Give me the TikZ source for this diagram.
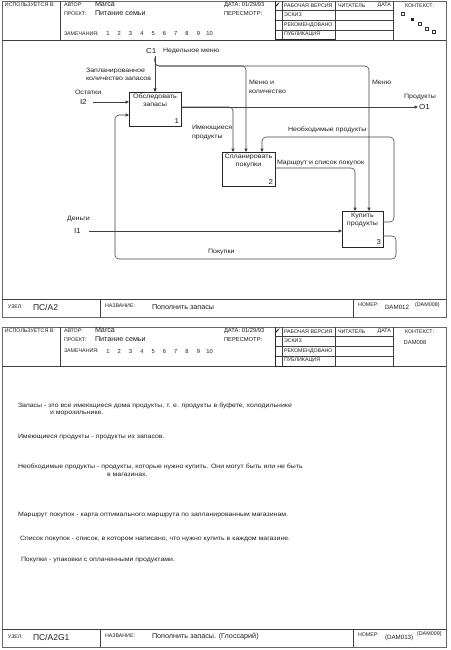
\documentclass[tikz,border=0pt]{standalone}
\usepackage{fontspec}
\setmainfont{Liberation Sans}
\newfontfamily\djv{DejaVu Sans}
\newfontfamily\gfont[FakeStretch=1.12]{Liberation Sans}
\usetikzlibrary{arrows.meta}
\newcommand\fsz[1]{\fontsize{#1}{#1}\selectfont}
\newcommand\idefhead[3]{% #1 top y, #2 prefix, #3 remarks offset
  \draw[thinln] (60,#1) -- (60,#1+39);
  \draw[thinln] (2,#1+39) -- (446,#1+39);
  \node[hdr] (#2use) at (5,#1+4) {ИСПОЛЬЗУЕТСЯ В:};
  \node[hdr] (#2aut) at (64,#1+4) {АВТОР:};
  \node[val] (#2autv) at (95,#1+3.5) {Marca};
  \node[hdr] (#2prj) at (64,#1+12.5) {ПРОЕКТ:};
  \node[val] (#2prjv) at (95,#1+12) {Питание семьи};
  \node[hdr] (#2rem) at (64,#1+#3) {ЗАМЕЧАНИЯ:};
  \foreach \i in {1,...,10} \node[num] (#2n\i) at ({108+11.3*(\i-1)},#1+#3) {\i};
  \node[hdr,font=\fsz{5.8}] (#2dat) at (224,#1+4) {ДАТА: 01/29/93};
  \node[hdr,font=\fsz{5.8}] (#2rev) at (224,#1+12.5) {ПЕРЕСМОТР:};
  \draw[thinln] (275,#1+9.5) -- (393,#1+9.5) (275,#1+19) -- (393,#1+19) (275,#1+29) -- (393,#1+29);
  \draw[thinln] (282,#1) -- (282,#1+39) (335,#1) -- (335,#1+39) (393,#1) -- (393,#1+39);
  \draw[thickln] (275,#1) -- (275,#1+39) -- (335,#1+39);
  \node[hdr] (#2st1) at (284,#1+4.5) {РАБОЧАЯ ВЕРСИЯ};
  \node[hdr] (#2st2) at (284,#1+14) {ЭСКИЗ};
  \node[hdr] (#2st3) at (284,#1+24) {РЕКОМЕНДОВАНО};
  \node[hdr] (#2st4) at (284,#1+33.5) {ПУБЛИКАЦИЯ};
  \node[font=\djv\fsz{7}] (#2chk) at (277.5,#1+4.5) {✔};
  \node[hdr] (#2rdr) at (338,#1+4.5) {ЧИТАТЕЛЬ};
  \node[hdr,anchor=east] (#2rdt) at (391,#1+4.5) {ДАТА};
  \node[hdr] (#2ctx) at (405,#1+5) {КОНТЕКСТ:};
}
\newcommand\ideffoot[2]{% #1 bottom y, #2 prefix
  \draw[thinln] (2,#1-18) -- (446,#1-18);
  \draw[thinln] (100,#1-18) -- (100,#1) (353,#1-18) -- (353,#1);
  \node[hdr] (#2node) at (8,#1-10) {УЗЕЛ:};
  \node[hdr] (#2ttl) at (105,#1-11) {НАЗВАНИЕ:};
  \node[hdr] (#2nbr) at (358,#1-12) {НОМЕР:};
}
\begin{document}
\begin{tikzpicture}[x=1pt,y=-1pt,
  every node/.style={inner sep=0pt,outer sep=0pt,text=black!88},
  thinln/.style={draw=black!75,line width=0.5pt},
  thickln/.style={draw=black!85,line width=1pt},
  frameln/.style={draw=black!60,line width=0.8pt},
  hdr/.style={anchor=west,font=\fsz{5.3}},
  val/.style={anchor=west,font=\fsz{7.2}},
  num/.style={font=\fsz{5.8},text height=4.2pt,text depth=0pt},
  big/.style={anchor=west,font=\fsz{8.5}},
  lbl/.style={anchor=west,align=left,font=\gfont\fontsize{6.3}{8.6}\selectfont},
  actbox/.style={draw=black!85,line width=0.9pt},
  btext/.style={anchor=north,align=center,font=\gfont\fontsize{6.4}{7.6}\selectfont},
  bnum/.style={anchor=south east,font=\gfont\fsz{7}},
  arr/.style={draw=black!75,line width=0.55pt,rounded corners=4pt,-{Triangle[length=3.5pt,width=3.2pt]}},
  gl/.style={anchor=west,align=left,font=\gfont\fsz{6.2}},
  sq/.style={draw=black!80,line width=0.4pt}
]
\useasboundingbox (0,0) rectangle (450,650);
\fill[white] (0,0) rectangle (450,650);

% ================= PAGE 1 =================
\draw[frameln] (2,1) rectangle (446,317);
\idefhead{1}{a}{32.5}
\draw[sq] (401.5,12.5) rectangle +(3,3);
\fill[black!85] (410.5,18.5) rectangle +(3,3);
\draw[sq] (418.5,22.5) rectangle +(3,3);
\draw[sq] (425.5,27) rectangle +(3,3);
\draw[sq] (432.5,30.5) rectangle +(3,3);
\ideffoot{317}{a}
\node[big] (anodev) at (33,307) {ПС/А2};
\node[val] (attlv) at (152,307) {Пополнить запасы};
\node[val,font=\fsz{6.2}] (anbrv) at (385,307.5) {DAM012};
\node[val,font=\fsz{5.4}] (anbro) at (415,305) {(DAM008)};

% activity boxes
\node[actbox,minimum width=52pt,minimum height=34pt] (b1) at (155,109) {};
\node[btext] (b1t) at ([yshift=-2pt]b1.north) {Обследовать\\запасы};
\node[bnum] (b1n) at ([xshift=-2pt,yshift=2pt]b1.south east) {1};
\node[actbox,minimum width=53pt,minimum height=34pt] (b2) at (248.5,169) {};
\node[btext] (b2t) at ([yshift=-2pt]b2.north) {Спланировать\\покупки};
\node[bnum] (b2n) at ([xshift=-2pt,yshift=2pt]b2.south east) {2};
\node[actbox,minimum width=41pt,minimum height=36pt] (b3) at (362.5,229) {};
\node[btext] (b3t) at ([yshift=-2pt]b3.north) {Купить\\продукты};
\node[bnum] (b3n) at ([xshift=-2pt,yshift=2pt]b3.south east) {3};

% boundary labels
\node[val,font=\gfont\fsz{7.2}] (c1) at (146,51) {C1};
\node[lbl] (c1l) at (163,50.5) {Недельное меню};
\node[lbl] (ctl) at (86,74.5) {Запланированное\\количество запасов};
\node[lbl] (i2l) at (75,92) {Остатки};
\node[val,font=\gfont\fsz{7.2}] (i2) at (80,102) {I2};
\node[lbl] (mkl) at (249,87) {Меню и\\количество};
\node[lbl] (mnl) at (372,82) {Меню};
\node[lbl] (o1l) at (404,97) {Продукты};
\node[val,font=\gfont\fsz{7.2}] (o1) at (419,107.5) {O1};
\node[lbl] (ipl) at (192,132.5) {Имеющиеся\\продукты};
\node[lbl] (npl) at (288,130) {Необходимые продукты};
\node[lbl] (msl) at (277,163) {Маршрут и список покупок};
\node[lbl] (i1l) at (67,219) {Деньги};
\node[val,font=\gfont\fsz{7.2}] (i1) at (74,231) {I1};
\node[lbl] (pkl) at (208,252) {Покупки};

% connector anchors
\coordinate (c1s) at (155,56);
\coordinate (c1j) at (155,58);
\coordinate (m2) at (246,66);
\coordinate (m3) at (369,66);
\coordinate (i2s) at (93,102);
\coordinate (i1s) at (89,231);
\coordinate (o1e) at (418,107);
\coordinate (b1o) at (155,107);
\coordinate (ip) at (233,107);
\coordinate (np) at (262,137);
\coordinate (npr) at (394,137);
\coordinate (b3o1) at (362,222);
\coordinate (b3o2) at (362,236);
\coordinate (pkr) at (396,259);
\coordinate (b1i2) at (115,115);
\coordinate (msr) at (355,168);
\coordinate (b2o) at (248,168);

% connectors
\draw[arr] (c1s) -- (b1.north);
\draw[arr] (c1j) |- (m3) -- (m3 |- b3.north);
\draw[arr] (c1j) |- (m2) -- (m2 |- b2.north);
\draw[arr] (i2s) -- (i2s -| b1.west);
\draw[arr] (b1o -| b1.east) -- (o1e);
\draw[arr] (b1o -| b1.east) -| (ip |- b2.north);
\draw[arr] (b3o1 -| b3.east) -| (npr) -| (np |- b2.north);
\draw[arr] (b2o -| b2.east) -| (msr |- b3.north);
\draw[arr] (i1s) -- (i1s -| b3.west);
\draw[arr] (b3o2 -| b3.east) -| (pkr) -| (b1i2) -- (b1i2 -| b1.west);

% ================= PAGE 2 =================
\draw[frameln] (2,327) rectangle (446,647);
\idefhead{327}{g}{24}
\node[val,font=\fsz{5.8},anchor=center] (gctxv) at (415,343) {DAM008};
\ideffoot{647}{g}
\node[big] (gnodev) at (33,637) {ПС/А2G1};
\node[val] (gttlv) at (152,637) {Пополнить запасы. (Глоссарий)};
\node[val,font=\fsz{6.2}] (gnbrv) at (385,637.5) {(DAM013)};
\node[val,font=\fsz{5.4}] (gnbro) at (417,634.5) {(DAM009)};

\node[gl] (g1) at (18,406) {Запасы - это все имеющиеся дома продукты, т. е. продукты в буфете, холодильнике};
\node[gl] (g1b) at (50,413.5) {и морозильнике.};
\node[gl] (g2) at (18,437) {Имеющиеся продукты - продукты из запасов.};
\node[gl] (g3) at (18,467) {Необходимые продукты - продукты, которые нужно купить. Они могут быть или не быть};
\node[gl] (g3b) at (107,475) {в магазинах.};
\node[gl] (g4) at (18,515) {Маршрут покупок - карта оптимального маршрута по запланированным магазинам.};
\node[gl] (g5) at (20,539) {Список покупок - список, в котором написано, что нужно купить в каждом магазине.};
\node[gl] (g6) at (21,560) {Покупки - упаковки с оплаченными продуктами.};
\end{tikzpicture}
\end{document}
